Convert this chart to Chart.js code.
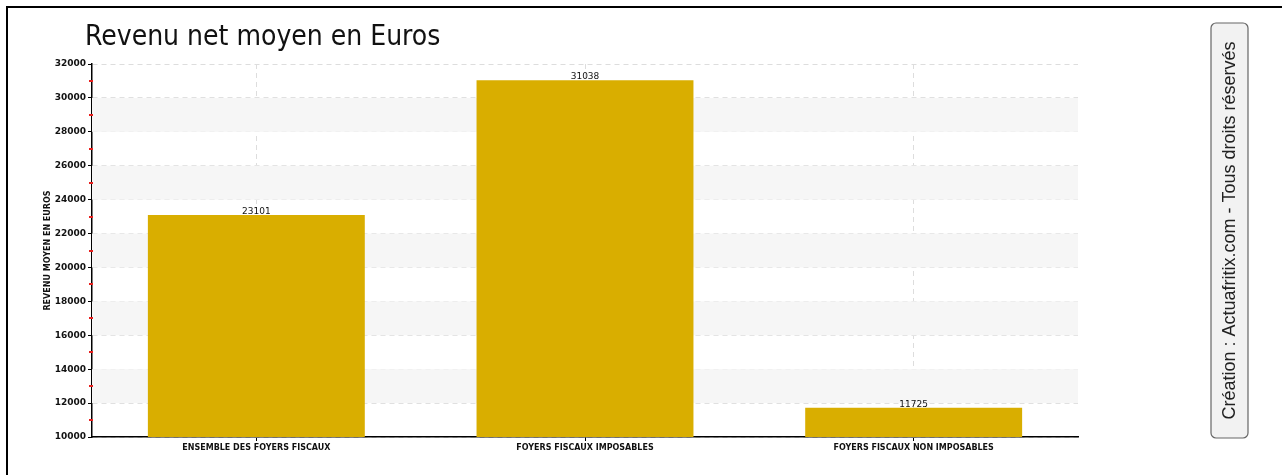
<!DOCTYPE html>
<html>
<head>
<meta charset="utf-8">
<script src="https://cdn.jsdelivr.net/npm/chart.js@4.4.1/dist/chart.umd.min.js"></script>
<style>
  html, body { margin: 0; padding: 0; background: #fff; }
  #wrap { width: 1282px; height: 475px; position: relative; }
</style>
</head>
<body>
<div id="wrap"><canvas id="chart"></canvas></div>
<script>
const categories = ['ENSEMBLE DES FOYERS FISCAUX', 'FOYERS FISCAUX IMPOSABLES', 'FOYERS FISCAUX NON IMPOSABLES'];
const revenus = [23101, 31038, 11725];
const yMin = 10000;
const yMax = 32000;
const yStep = 2000;
const bands = [[28000, 30000], [24000, 26000], [20000, 22000], [16000, 18000], [12000, 14000]];

const titleText = 'Revenu net moyen en Euros';
const yAxisTitle = 'REVENU MOYEN EN EUROS';
const creditText = 'Création : Actuafritix.com - Tous droits réservés';

const pixelFont = '"DejaVu Sans", sans-serif';

// background bands, frame, title and credit box
const decor = {
  id: 'decor',
  beforeDatasetsDraw(chart) {
    const { ctx, chartArea, scales: { y } } = chart;
    ctx.save();
    ctx.fillStyle = '#f6f6f6';
    bands.forEach(([a, b]) => {
      const top = y.getPixelForValue(b);
      const bot = y.getPixelForValue(a);
      ctx.fillRect(chartArea.left, top, chartArea.right - chartArea.left, bot - top);
    });
    ctx.restore();
  },
  afterDatasetsDraw(chart) {
    const { ctx } = chart;
    ctx.save();
    // value labels
    ctx.font = '9px ' + pixelFont;
    ctx.fillStyle = '#111';
    ctx.textAlign = 'center';
    ctx.textBaseline = 'bottom';
    chart.getDatasetMeta(0).data.forEach((bar, i) => {
      ctx.fillText(String(revenus[i]), bar.x, bar.y + 1);
    });
    ctx.restore();
  },
  afterDraw(chart) {
    const { ctx, chartArea, scales: { x, y } } = chart;
    ctx.save();
    // red minor ticks
    ctx.fillStyle = '#e8201e';
    for (let v = yMin + yStep / 2; v < yMax; v += yStep) {
      const py = Math.round(y.getPixelForValue(v));
      ctx.fillRect(x.left - 3, py - 1, 4, 2);
    }
    // outer frame (top and left only)
    ctx.strokeStyle = '#000';
    ctx.lineWidth = 2;
    ctx.beginPath();
    ctx.moveTo(7, 475);
    ctx.lineTo(7, 7);
    ctx.lineTo(1282, 7);
    ctx.stroke();
    // title
    ctx.font = '28px "DejaVu Sans Condensed", "DejaVu Sans", sans-serif';
    ctx.fillStyle = '#111';
    ctx.textAlign = 'left';
    ctx.textBaseline = 'alphabetic';
    ctx.fillText(titleText, 85, 45);
    // y axis title
    ctx.font = 'bold 8px ' + pixelFont;
    ctx.textAlign = 'center';
    ctx.textBaseline = 'middle';
    ctx.translate(48, (chartArea.top + chartArea.bottom) / 2);
    ctx.rotate(-Math.PI / 2);
    ctx.fillText(yAxisTitle, 0, 0);
    ctx.setTransform(1, 0, 0, 1, 0, 0);
    // credit box
    const bx = 1211, by = 23, bw = 37, bh = 415, r = 5;
    ctx.beginPath();
    ctx.roundRect(bx, by, bw, bh, r);
    ctx.fillStyle = '#f2f2f2';
    ctx.fill();
    ctx.strokeStyle = '#666';
    ctx.lineWidth = 1.2;
    ctx.stroke();
    ctx.translate(bx + bw / 2, by + bh / 2);
    ctx.rotate(-Math.PI / 2);
    ctx.font = '18px "Liberation Sans", Arial, sans-serif';
    ctx.fillStyle = '#222';
    ctx.textAlign = 'center';
    ctx.textBaseline = 'middle';
    ctx.fillText(creditText, 0, 1);
    ctx.restore();
  }
};

new Chart(document.getElementById('chart'), {
  type: 'bar',
  data: {
    labels: categories,
    datasets: [{
      data: revenus,
      backgroundColor: '#d9ae00',
      borderWidth: 0,
      barPercentage: 0.66,
      categoryPercentage: 1
    }]
  },
  options: {
    responsive: true,
    maintainAspectRatio: false,
    animation: false,
    layout: { padding: { left: 0, right: 204, top: 64, bottom: 0 } },
    plugins: {
      legend: { display: false },
      tooltip: { enabled: false },
      title: { display: false }
    },
    scales: {
      x: {
        afterFit(scale) { scale.height = 38; },
        grid: {
          offset: false,
          color: '#dddddd',
          tickColor: '#000',
          tickLength: 4,
          tickBorderDash: [],
          drawOnChartArea: true
        },
        border: { color: '#000', width: 1.5, dash: [5, 4] },
        ticks: {
          color: '#111',
          font: { family: pixelFont, size: 8, weight: 'bold' },
          padding: 2,
          maxRotation: 0
        }
      },
      y: {
        min: yMin,
        max: yMax,
        afterFit(scale) { scale.width = 92; },
        grid: {
          color: '#dddddd',
          tickColor: '#000',
          tickLength: 4,
          tickBorderDash: []
        },
        border: { color: '#000', width: 1.5, dash: [5, 4] },
        ticks: {
          stepSize: yStep,
          color: '#111',
          font: { family: pixelFont, size: 9, weight: 'bold' },
          padding: 2,
          callback: (v) => String(v)
        }
      }
    }
  },
  plugins: [decor]
});
</script>
</body>
</html>
